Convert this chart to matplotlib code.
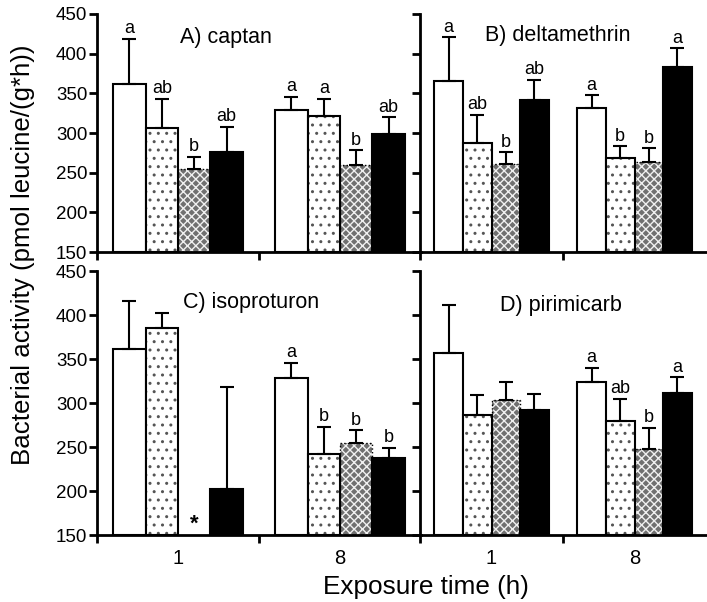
import matplotlib
matplotlib.use("Agg")
import matplotlib.pyplot as plt
import numpy as np

plt.rcParams['font.family'] = ['Liberation Sans', 'DejaVu Sans']
plt.rcParams['hatch.linewidth'] = 1.0

times = ['1', '8']
treatments = ['control', 'low', 'high', 'very high']

panels = ['A) captan', 'B) deltamethrin', 'C) isoproturon', 'D) pirimicarb']

# means[panel][time][treatment]
captan_mean = [[362, 306, 254, 276], [329, 322, 260, 299]]
captan_err = [[57, 37, 16, 32], [17, 21, 18, 21]]
captan_lbl = [['a', 'ab', 'b', 'ab'], ['a', 'a', 'b', 'ab']]

delta_mean = [[365, 287, 261, 342], [331, 268, 263, 383]]
delta_err = [[56, 36, 15, 25], [17, 15, 18, 24]]
delta_lbl = [['a', 'ab', 'b', 'ab'], ['a', 'b', 'b', 'a']]

iso_mean = [[361, 385, np.nan, 202], [328, 242, 255, 238]]
iso_err = [[55, 17, np.nan, 116], [18, 31, 14, 11]]
iso_lbl = [['', '', '*', ''], ['a', 'b', 'b', 'b']]

piri_mean = [[357, 286, 303, 292], [324, 280, 248, 311]]
piri_err = [[54, 23, 21, 18], [16, 25, 24, 18]]
piri_lbl = [['', '', '', ''], ['a', 'ab', 'b', 'a']]

means = [captan_mean, delta_mean, iso_mean, piri_mean]
errs = [captan_err, delta_err, iso_err, piri_err]
lbls = [captan_lbl, delta_lbl, iso_lbl, piri_lbl]

ymin, ymax = 150, 450
yticks = [150, 200, 250, 300, 350, 400, 450]

fig = plt.figure(figsize=(7.07, 6.02), dpi=100)
W, H = 707, 602
def rect(l, r, t, b):
    return [l / W, 1 - b / H, (r - l) / W, (b - t) / H]

axes = [
    fig.add_axes(rect(97, 421, 14, 252)),
    fig.add_axes(rect(420, 706, 14, 252)),
    fig.add_axes(rect(97, 421, 271, 535)),
    fig.add_axes(rect(420, 706, 271, 535)),
]
title_pos = [(0.256, 0.903), (0.227, 0.908), (0.265, 0.88), (0.28, 0.871)]

width = 0.2
offsets = [-0.3, -0.1, 0.1, 0.3]
centers = [0.5, 1.5]

for k, ax in enumerate(axes):
    for g, c in enumerate(centers):
        for t in range(4):
            x = c + offsets[t]
            m = means[k][g][t]
            e = errs[k][g][t]
            lab = lbls[k][g][t]
            if not np.isnan(m):
                if t == 0:
                    ax.bar(x, m - ymin, width, bottom=ymin, facecolor='white',
                           edgecolor='black', linewidth=1.5, zorder=2)
                elif t == 1:
                    ax.bar(x, m - ymin, width, bottom=ymin, facecolor='white',
                           edgecolor='#555555', hatch='..', linewidth=0, zorder=2)
                    ax.bar(x, m - ymin, width, bottom=ymin, fill=False,
                           edgecolor='black', linewidth=1.5, zorder=3)
                elif t == 2:
                    ax.bar(x, m - ymin, width, bottom=ymin, facecolor='#707070',
                           edgecolor='#f0f0f0', hatch='xxxx', linewidth=0, zorder=2)
                    ax.bar(x, m - ymin, width, bottom=ymin, fill=False,
                           edgecolor='black', linewidth=1.0, linestyle=':', zorder=3)
                else:
                    ax.bar(x, m - ymin, width, bottom=ymin, facecolor='black',
                           edgecolor='black', linewidth=1.5, zorder=2)
                ax.errorbar(x, m, yerr=[[0], [e]], fmt='none', ecolor='black',
                            elinewidth=1.5, capsize=5, capthick=1.5, zorder=4)
                if lab:
                    ax.annotate(lab, (x, m + e), xytext=(0, 1), textcoords='offset points',
                                ha='center', va='bottom', fontsize=13)
            else:
                if lab:
                    ax.annotate(lab, (x, ymin), xytext=(0, 0), textcoords='offset points',
                                ha='center', va='bottom', fontsize=16, fontweight='bold')

    ax.set_xlim(0, 2)
    ax.set_ylim(ymin, ymax)
    ax.set_yticks(yticks)
    for s in ['top', 'right']:
        ax.spines[s].set_visible(False)
    for s in ['left', 'bottom']:
        ax.spines[s].set_linewidth(2)
    ax.tick_params(axis='both', direction='out', length=6, width=2, labelsize=13.5, pad=1)
    ax.set_xticks([0, 1])
    ax.set_xticklabels(['', ''])
    if k in (2, 3):
        ax.set_xticks(centers, minor=True)
        ax.set_xticklabels(times, minor=True)
        ax.tick_params(axis='x', which='minor', length=0, labelsize=14.5, pad=10)
    if k in (1, 3):
        ax.set_yticklabels([])
    ax.text(title_pos[k][0], title_pos[k][1], panels[k], transform=ax.transAxes,
            ha='left', va='center', fontsize=15.5)
    ax.set_facecolor('none')

fig.text(23 / W, 1 - 255 / H, 'Bacterial activity (pmol leucine/(g*h))', rotation=90,
         ha='center', va='center', fontsize=18.6)
fig.text(426 / W, 1 - 587 / H, 'Exposure time (h)', ha='center', va='center', fontsize=18.8)

fig.savefig('out.png', dpi=100)
